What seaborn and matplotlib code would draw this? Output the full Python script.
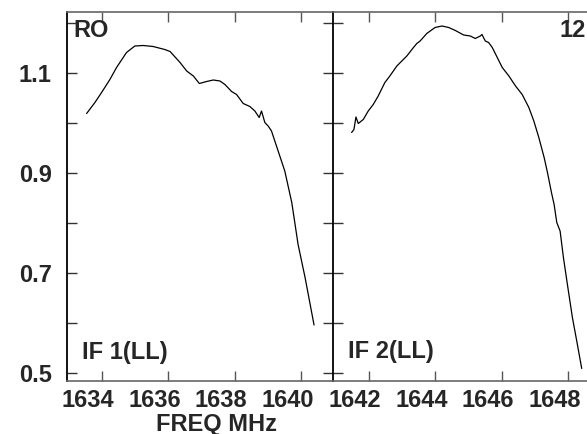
"""
Bandpass amplitude, two IFs side by side (RO, LL).
"""
import matplotlib
matplotlib.use('Agg')
import numpy as np
import pandas as pd
import matplotlib.pyplot as plt
import matplotlib.transforms as mtransforms
import seaborn as sns

# IF 1 (LL)
if1_freq = [1633.54, 1633.79, 1633.99, 1634.24, 1634.44, 1634.74, 1634.99, 1635.24,
            1635.54, 1635.89, 1636.05, 1636.35, 1636.55, 1636.75, 1636.93, 1637.15,
            1637.35, 1637.55, 1637.70, 1637.90, 1638.05, 1638.25, 1638.45, 1638.60,
            1638.73, 1638.80, 1638.90, 1639.00, 1639.10, 1639.25, 1639.35, 1639.50,
            1639.71, 1639.90, 1640.11, 1640.38]
if1_amp = [1.019, 1.041, 1.061, 1.087, 1.111, 1.141, 1.154, 1.155,
           1.153, 1.147, 1.143, 1.121, 1.104, 1.094, 1.079, 1.083,
           1.086, 1.084, 1.077, 1.063, 1.057, 1.039, 1.033, 1.024,
           1.011, 1.024, 1.001, 0.994, 0.984, 0.954, 0.934, 0.904,
           0.841, 0.757, 0.691, 0.596]

# IF 2 (LL)
if2_freq = [1641.48, 1641.55, 1641.61, 1641.68, 1641.83, 1641.98, 1642.13, 1642.28,
            1642.48, 1642.63, 1642.84, 1643.14, 1643.34, 1643.44, 1643.54, 1643.74,
            1643.99, 1644.20, 1644.40, 1644.60, 1644.85, 1645.05, 1645.20, 1645.35,
            1645.40, 1645.50, 1645.60, 1645.71, 1645.86, 1646.01, 1646.21, 1646.41,
            1646.61, 1646.81, 1646.96, 1647.11, 1647.27, 1647.37, 1647.49, 1647.57,
            1647.65, 1647.75, 1647.85, 1647.97, 1648.12, 1648.27, 1648.40]
if2_amp = [0.981, 0.987, 1.012, 0.999, 1.007, 1.024, 1.037, 1.054,
           1.081, 1.094, 1.114, 1.134, 1.151, 1.159, 1.164, 1.179,
           1.191, 1.194, 1.191, 1.185, 1.176, 1.174, 1.169, 1.174,
           1.177, 1.164, 1.161, 1.151, 1.131, 1.111, 1.094, 1.074,
           1.057, 1.031, 1.004, 0.971, 0.931, 0.901, 0.861, 0.837,
           0.801, 0.784, 0.731, 0.677, 0.611, 0.557, 0.509]

if1_xticks = [1634, 1636, 1638, 1640]
if2_xticks = [1642, 1644, 1646, 1648]
y_ticks = [0.5, 0.6, 0.7, 0.8, 0.9, 1.0, 1.1, 1.2]
y_labels = ['0.5', '', '0.7', '', '0.9', '', '1.1', '']

sns.set_style('white')
plt.rcParams['font.family'] = ['Liberation Sans', 'DejaVu Sans']
plt.rcParams['font.weight'] = 'bold'
FS = 17

W, H = 587, 434
fig = plt.figure(figsize=(W / 100, H / 100), dpi=100)
ax1 = fig.add_axes([67 / W, 53 / H, 266 / W, 369 / H])
ax2 = fig.add_axes([333 / W, 53 / H, 266 / W, 369 / H])

df1 = pd.DataFrame({'freq': if1_freq, 'amp': if1_amp})
df2 = pd.DataFrame({'freq': if2_freq, 'amp': if2_amp})
sns.lineplot(data=df1, x='freq', y='amp', ax=ax1, color='black', lw=0.9)
sns.lineplot(data=df2, x='freq', y='amp', ax=ax2, color='black', lw=0.9)

ax1.set_xlim(1632.95, 1640.95)
ax2.set_xlim(1640.92, 1648.92)

# tick labels in the reference sit ~14 px left of their ticks
shift = mtransforms.ScaledTranslation(-14 / 100, 0, fig.dpi_scale_trans)

for ax, xt in [(ax1, if1_xticks), (ax2, if2_xticks)]:
    ax.set_ylim(0.484, 1.222)
    ax.set_xticks(xt)
    ax.set_xticklabels([str(v) for v in xt])
    ax.set_yticks(y_ticks)
    ax.set_xlabel('')
    ax.set_ylabel('')
    ax.tick_params(axis='x', direction='in', length=7, width=1, color='#555555',
                   top=True, bottom=True, labelsize=FS, pad=6)
    ax.tick_params(axis='y', direction='in', length=7, width=1, color='#333333',
                   labelsize=FS, pad=11)
    for lab in ax.get_xticklabels():
        lab.set_transform(lab.get_transform() + shift)
    for side in ['top', 'bottom']:
        ax.spines[side].set_color('#666666')
        ax.spines[side].set_linewidth(1.2)
    ax.spines['left'].set_color('black')
    ax.spines['left'].set_linewidth(1.3)
    ax.spines['right'].set_visible(False)

ax1.set_yticklabels(y_labels)
ax1.tick_params(axis='y', left=True, right=True)
ax2.set_yticklabels([])
ax2.tick_params(axis='y', left=True, right=False)

ax1.text(0.023, 0.951, 'RO', transform=ax1.transAxes, fontsize=FS,
         fontweight='bold', va='center', ha='left')
ax1.text(0.056, 0.077, 'IF 1(LL)', transform=ax1.transAxes, fontsize=FS,
         fontweight='bold', va='center', ha='left')
ax2.text(0.056, 0.079, 'IF 2(LL)', transform=ax2.transAxes, fontsize=FS,
         fontweight='bold', va='center', ha='left')
ax2.text(0.853, 0.951, '12', transform=ax2.transAxes, fontsize=FS,
         fontweight='bold', va='center', ha='left')

fig.text(216 / W, 1 - 424 / H, 'FREQ MHz', fontsize=FS, fontweight='bold',
         ha='center', va='center')

fig.savefig('out.png', dpi=100)
